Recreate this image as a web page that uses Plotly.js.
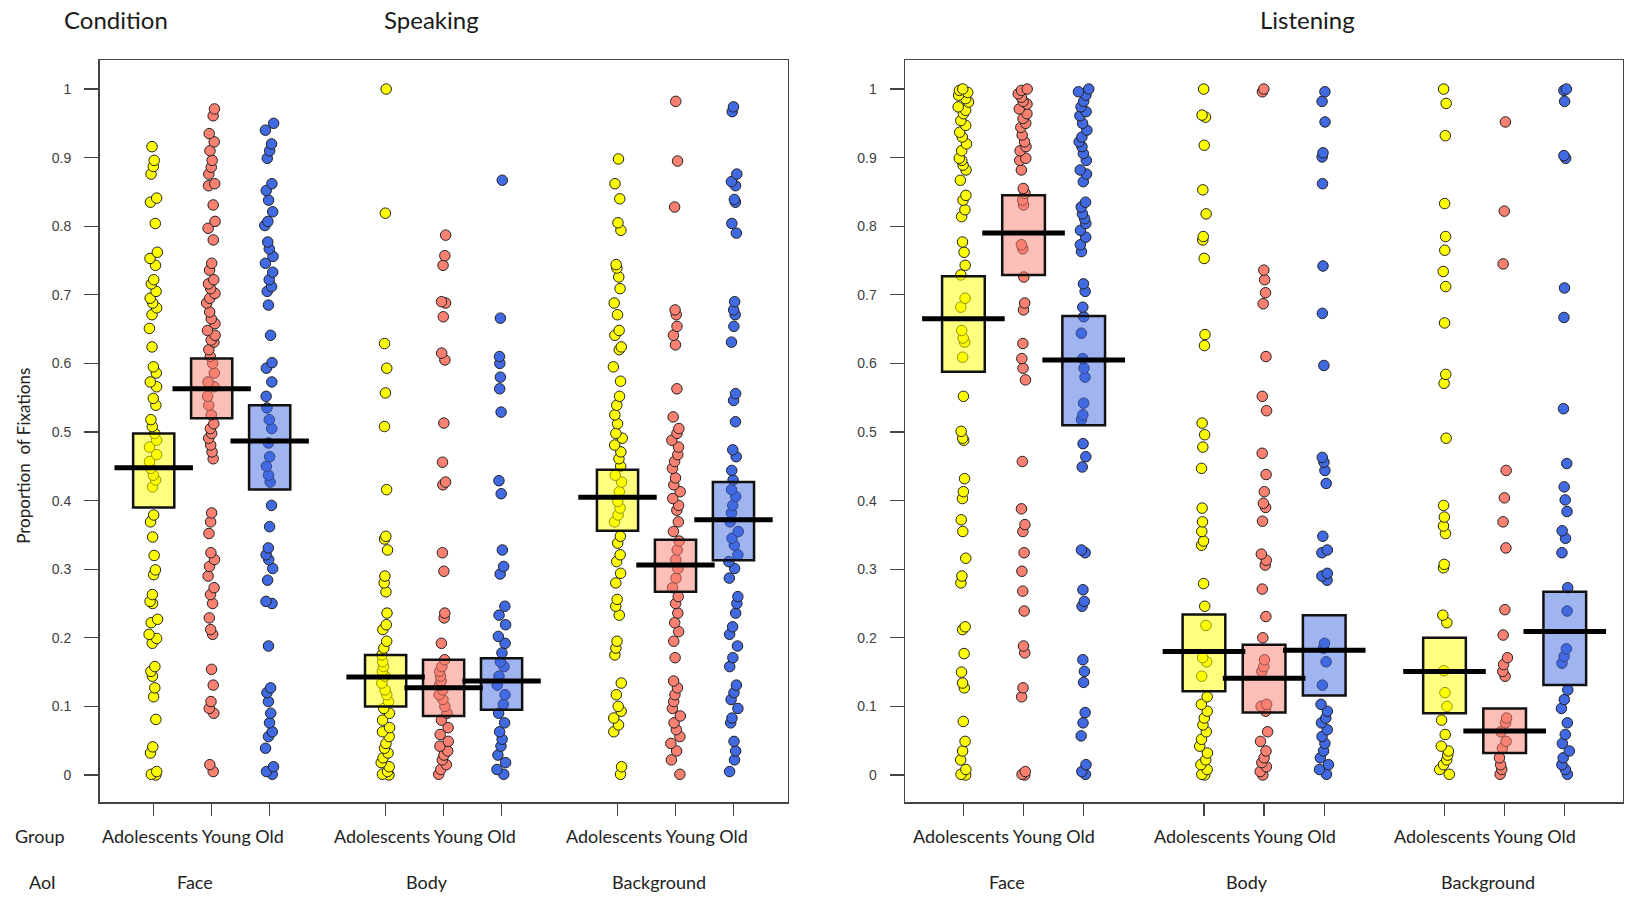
<!DOCTYPE html>
<html><head><meta charset="utf-8">
<script src="https://cdn.plot.ly/plotly-3.0.1.min.js"></script>
<style>html,body{margin:0;padding:0;background:#fff;}#chart{width:1626px;height:897px;}</style>
</head><body><div id="chart"></div>
<script>
// ---------- categories ----------
const groups = ['Adolescents', 'Young', 'Old'];
const aois = ['Face', 'Body', 'Background'];
const conditions = ['Speaking', 'Listening'];
const yTickVals = [0, 0.1, 0.2, 0.3, 0.4, 0.5, 0.6, 0.7, 0.8, 0.9, 1];
const yTickText = ['0', '0.1', '0.2', '0.3', '0.4', '0.5', '0.6', '0.7', '0.8', '0.9', '1'];

// ---------- Speaking: individual proportions ----------
const spkFaceAdol = [0.916,0.896,0.887,0.876,0.841,0.835,0.804,0.762,0.753,0.743,0.722,0.716,0.705,0.695,0.688,0.681,0.671,0.651,0.624,0.595,0.586,0.573,0.566,0.549,0.539,0.518,0.508,0.498,0.488,0.478,0.467,0.457,0.447,0.437,0.430,0.420,0.379,0.369,0.347,0.320,0.299,0.292,0.263,0.253,0.250,0.227,0.222,0.205,0.199,0.192,0.158,0.151,0.144,0.127,0.114,0.081,0.041,0.032,0.005,0.001,0.000];
const spkFaceYoung = [0.971,0.961,0.935,0.923,0.910,0.896,0.886,0.876,0.862,0.859,0.831,0.807,0.797,0.780,0.746,0.736,0.722,0.716,0.709,0.702,0.695,0.688,0.675,0.665,0.658,0.648,0.641,0.634,0.631,0.620,0.610,0.600,0.586,0.573,0.566,0.552,0.539,0.525,0.512,0.505,0.498,0.491,0.481,0.471,0.461,0.382,0.369,0.352,0.324,0.314,0.304,0.290,0.273,0.263,0.250,0.229,0.212,0.205,0.154,0.131,0.107,0.097,0.090,0.015,0.005];
const spkFaceOld = [0.950,0.940,0.920,0.910,0.899,0.862,0.852,0.838,0.821,0.807,0.801,0.777,0.767,0.756,0.746,0.733,0.722,0.712,0.705,0.685,0.641,0.601,0.593,0.573,0.552,0.535,0.518,0.505,0.484,0.464,0.450,0.437,0.427,0.393,0.362,0.331,0.321,0.314,0.301,0.284,0.253,0.250,0.188,0.127,0.120,0.107,0.090,0.076,0.063,0.056,0.039,0.012,0.005,0.001];
const spkBodyAdol = [1.000,0.819,0.629,0.593,0.557,0.508,0.416,0.348,0.344,0.328,0.290,0.280,0.267,0.236,0.219,0.212,0.195,0.185,0.175,0.165,0.158,0.151,0.144,0.134,0.124,0.117,0.107,0.097,0.090,0.080,0.069,0.063,0.056,0.046,0.039,0.032,0.025,0.018,0.012,0.005,0.001,0.000];
const spkBodyYoung = [0.787,0.757,0.743,0.690,0.688,0.668,0.615,0.605,0.513,0.456,0.427,0.423,0.324,0.297,0.236,0.229,0.192,0.168,0.158,0.151,0.144,0.137,0.131,0.124,0.117,0.110,0.100,0.090,0.080,0.069,0.059,0.049,0.042,0.035,0.029,0.022,0.015,0.008,0.001];
const spkBodyOld = [0.867,0.666,0.610,0.600,0.580,0.563,0.529,0.429,0.410,0.328,0.304,0.293,0.246,0.233,0.219,0.202,0.192,0.178,0.165,0.158,0.144,0.131,0.117,0.103,0.090,0.076,0.063,0.052,0.042,0.029,0.018,0.008,0.001];
const spkBgAdol = [0.898,0.862,0.840,0.805,0.794,0.744,0.739,0.726,0.709,0.688,0.671,0.648,0.641,0.624,0.620,0.595,0.574,0.552,0.539,0.525,0.512,0.498,0.491,0.481,0.471,0.461,0.450,0.437,0.427,0.413,0.399,0.389,0.379,0.369,0.348,0.338,0.321,0.311,0.294,0.280,0.256,0.246,0.233,0.195,0.185,0.175,0.134,0.117,0.100,0.093,0.083,0.073,0.063,0.012,0.001];
const spkBgYoung = [0.982,0.895,0.828,0.678,0.671,0.654,0.641,0.627,0.563,0.522,0.505,0.498,0.488,0.478,0.467,0.457,0.447,0.433,0.423,0.413,0.403,0.393,0.386,0.369,0.355,0.341,0.328,0.314,0.301,0.287,0.273,0.260,0.250,0.236,0.222,0.209,0.195,0.171,0.137,0.127,0.117,0.107,0.097,0.086,0.076,0.066,0.056,0.046,0.035,0.022,0.001];
const spkBgOld = [0.974,0.967,0.876,0.865,0.859,0.839,0.835,0.804,0.790,0.690,0.678,0.671,0.654,0.631,0.556,0.546,0.515,0.474,0.464,0.444,0.430,0.416,0.406,0.393,0.382,0.369,0.355,0.345,0.335,0.321,0.311,0.301,0.287,0.260,0.250,0.236,0.216,0.205,0.188,0.171,0.158,0.131,0.120,0.110,0.097,0.083,0.076,0.049,0.035,0.022,0.005];

// ---------- Listening: individual proportions ----------
const lisFaceAdol = [1.000,0.998,0.995,0.991,0.986,0.981,0.974,0.969,0.964,0.954,0.947,0.937,0.930,0.920,0.910,0.899,0.896,0.889,0.882,0.867,0.845,0.838,0.824,0.814,0.777,0.762,0.743,0.729,0.695,0.682,0.648,0.637,0.631,0.609,0.552,0.501,0.491,0.488,0.432,0.413,0.403,0.372,0.355,0.316,0.290,0.280,0.216,0.212,0.177,0.150,0.134,0.127,0.078,0.049,0.035,0.022,0.008,0.001,0.000];
const lisFaceYoung = [1.000,0.998,0.993,0.988,0.982,0.978,0.971,0.964,0.957,0.950,0.944,0.933,0.923,0.916,0.910,0.899,0.896,0.882,0.855,0.848,0.838,0.831,0.773,0.767,0.726,0.688,0.678,0.629,0.607,0.593,0.576,0.457,0.388,0.365,0.355,0.324,0.297,0.268,0.239,0.188,0.178,0.127,0.114,0.005,0.001,0.000];
const lisFaceOld = [1.000,0.996,0.991,0.982,0.974,0.967,0.961,0.950,0.940,0.930,0.923,0.916,0.906,0.896,0.882,0.876,0.865,0.835,0.828,0.818,0.811,0.804,0.794,0.784,0.773,0.763,0.716,0.705,0.682,0.668,0.644,0.607,0.593,0.580,0.542,0.525,0.518,0.483,0.464,0.449,0.328,0.324,0.270,0.253,0.246,0.168,0.151,0.135,0.091,0.076,0.057,0.015,0.005,0.001];
const lisBodyAdol = [1.000,0.962,0.959,0.918,0.853,0.818,0.785,0.780,0.753,0.642,0.626,0.513,0.496,0.478,0.447,0.389,0.369,0.355,0.341,0.335,0.279,0.246,0.218,0.171,0.165,0.144,0.114,0.103,0.093,0.083,0.073,0.063,0.052,0.042,0.032,0.022,0.015,0.008,0.001,0.000];
const lisBodyYoung = [1.000,0.996,0.736,0.722,0.703,0.687,0.610,0.552,0.531,0.469,0.438,0.413,0.396,0.390,0.370,0.322,0.313,0.306,0.271,0.231,0.200,0.168,0.158,0.151,0.103,0.100,0.093,0.063,0.049,0.035,0.025,0.018,0.012,0.005,0.000];
const lisBodyOld = [0.996,0.982,0.952,0.907,0.901,0.862,0.742,0.673,0.597,0.463,0.456,0.444,0.425,0.348,0.328,0.324,0.294,0.290,0.284,0.192,0.185,0.165,0.131,0.103,0.093,0.083,0.076,0.066,0.056,0.046,0.035,0.025,0.015,0.008,0.001];
const lisBgAdol = [1.000,0.979,0.932,0.833,0.785,0.765,0.734,0.712,0.659,0.584,0.571,0.491,0.393,0.376,0.363,0.352,0.307,0.302,0.233,0.222,0.152,0.120,0.100,0.080,0.059,0.042,0.035,0.029,0.022,0.015,0.008,0.001];
const lisBgYoung = [0.952,0.822,0.745,0.444,0.404,0.369,0.331,0.241,0.204,0.171,0.161,0.151,0.144,0.083,0.076,0.063,0.049,0.039,0.025,0.015,0.008,0.001];
const lisBgOld = [1.000,0.998,0.982,0.903,0.899,0.710,0.667,0.534,0.454,0.420,0.401,0.384,0.356,0.345,0.324,0.273,0.239,0.184,0.173,0.163,0.124,0.110,0.097,0.076,0.059,0.046,0.035,0.025,0.015,0.008,0.001];

// ---------- summaries (order: Face A/Y/O, Body A/Y/O, Background A/Y/O) ----------
const spkMean = [0.448, 0.563, 0.487, 0.143, 0.127, 0.137, 0.405, 0.306, 0.372];
const spkLow  = [0.390, 0.520, 0.416, 0.100, 0.086, 0.095, 0.356, 0.267, 0.313];
const spkHigh = [0.498, 0.607, 0.539, 0.175, 0.168, 0.170, 0.445, 0.343, 0.427];
const lisMean = [0.665, 0.790, 0.605, 0.180, 0.141, 0.182, 0.151, 0.064, 0.209];
const lisLow  = [0.588, 0.729, 0.510, 0.122, 0.091, 0.116, 0.090, 0.032, 0.131];
const lisHigh = [0.727, 0.845, 0.669, 0.234, 0.190, 0.233, 0.200, 0.097, 0.267];

// ---------- assembly ----------
const panels = [
  {points: [[spkFaceAdol, spkFaceYoung, spkFaceOld], [spkBodyAdol, spkBodyYoung, spkBodyOld], [spkBgAdol, spkBgYoung, spkBgOld]],
   mean: spkMean, low: spkLow, high: spkHigh, xa: 'x', ya: 'y', meanLen: 56},
  {points: [[lisFaceAdol, lisFaceYoung, lisFaceOld], [lisBodyAdol, lisBodyYoung, lisBodyOld], [lisBgAdol, lisBgYoung, lisBgOld]],
   mean: lisMean, low: lisLow, high: lisHigh, xa: 'x2', ya: 'y2', meanLen: 59}
];
const pointColors = ['#FFFF00', '#FA8072', '#4169E1'];
const boxFills = ['rgba(255,255,0,0.5)', 'rgba(250,128,114,0.5)', 'rgba(65,105,225,0.5)'];
function pos(a, g) { return a * 4 + g + 1; }
const positions = [];
aois.forEach((_, a) => groups.forEach((_, g) => positions.push(pos(a, g))));

const traces = [];
panels.forEach(p => {
  // jittered individual points
  groups.forEach((gName, g) => {
    const x = [], y = [];
    aois.forEach((_, a) => p.points[a][g].forEach(v => { x.push(pos(a, g)); y.push(v); }));
    traces.push({type: 'box', x: x, y: y, xaxis: p.xa, yaxis: p.ya, name: gName,
      boxpoints: 'all', jitter: 0.6, pointpos: 0, width: 0.3, whiskerwidth: 0,
      fillcolor: 'rgba(0,0,0,0)', line: {width: 0, color: 'rgba(0,0,0,0)'},
      marker: {color: pointColors[g], size: 10.5, opacity: 1, line: {color: '#222', width: 1}},
      hoverinfo: 'y', showlegend: false});
  });
  // confidence boxes
  groups.forEach((gName, g) => {
    const x = [], q1 = [], q3 = [], med = [];
    aois.forEach((_, a) => { const i = a * 3 + g; x.push(pos(a, g)); q1.push(p.low[i]); q3.push(p.high[i]); med.push(p.mean[i]); });
    traces.push({type: 'box', x: x, q1: q1, q3: q3, median: med, lowerfence: q1, upperfence: q3,
      xaxis: p.xa, yaxis: p.ya, name: gName, width: 0.71, whiskerwidth: 0, boxpoints: false,
      fillcolor: boxFills[g], line: {color: '#111', width: 2.5}, hoverinfo: 'skip', showlegend: false});
  });
  // mean bars
  traces.push({type: 'scatter', mode: 'markers', x: positions, y: p.mean, xaxis: p.xa, yaxis: p.ya,
    marker: {symbol: 'line-ew', size: p.meanLen, color: '#000', line: {color: '#000', width: 5}},
    hoverinfo: 'y', showlegend: false});
});

function xAxis(domain, range) {
  return {domain: domain, range: range, tickvals: positions, ticktext: positions.map(() => ''),
    ticks: 'outside', ticklen: 12, tickwidth: 1.3, tickcolor: '#444', showline: true, mirror: true,
    linecolor: '#444', linewidth: 1.5, showgrid: false, zeroline: false, fixedrange: true};
}
function yAxis(anchor) {
  return {domain: [0.1059, 0.9331], range: [-0.0394, 1.0423], anchor: anchor, tickvals: yTickVals, ticktext: yTickText,
    ticks: 'outside', ticklen: 14, tickwidth: 1.3, tickcolor: '#444', ticklabelstandoff: 10,
    tickfont: {family: 'Liberation Sans, Arial, sans-serif', size: 14, color: '#404040'},
    showline: true, mirror: true, linecolor: '#444', linewidth: 1.5, showgrid: false, zeroline: false, fixedrange: true};
}

const lblFont = {family: 'Lato, sans-serif', size: 18, color: '#222'};
const ttlFont = {family: 'Lato, sans-serif', size: 24, color: '#1a1a1a'};
function ann(o) { return Object.assign({showarrow: false, xanchor: 'center', yanchor: 'middle'}, o); }
const annotations = [
  ann({text: 'Condition', xref: 'paper', yref: 'paper', x: 0.0713, y: 0.978, font: ttlFont}),
  ann({text: conditions[0], xref: 'paper', yref: 'paper', x: 0.2653, y: 0.978, font: ttlFont}),
  ann({text: conditions[1], xref: 'paper', yref: 'paper', x: 0.8042, y: 0.978, font: ttlFont}),
  ann({text: 'Group', xref: 'paper', yref: 'paper', x: 0.0249, y: 0.068, font: lblFont}),
  ann({text: 'AoI', xref: 'paper', yref: 'paper', x: 0.0261, y: 0.0167, font: lblFont}),
  ann({text: 'Proportion\u00a0 of Fixations', xref: 'paper', yref: 'paper', x: 0.014, y: 0.4916, textangle: -90,
   font: {family: 'Lato, sans-serif', size: 17, color: '#222'}})
];
['x', 'x2'].forEach(xr => {
  aois.forEach((aName, a) => {
    annotations.push(ann({text: groups.join(' '), xref: xr, yref: 'paper', x: pos(a, 1) - 0.32, y: 0.068, font: lblFont}));
    annotations.push(ann({text: aName, xref: xr, yref: 'paper', x: pos(a, 1) - 0.28, y: 0.0167, font: lblFont}));
  });
});

const layout = {
  width: 1626, height: 897, margin: {l: 0, r: 0, t: 0, b: 0},
  paper_bgcolor: '#ffffff', plot_bgcolor: '#ffffff', boxmode: 'overlay', showlegend: false,
  xaxis: xAxis([0.0612, 0.4846], [0.065, 11.94]),
  yaxis: yAxis('x'),
  xaxis2: xAxis([0.5566, 0.99815], [0.029, 11.968]),
  yaxis2: yAxis('x2'),
  annotations: annotations
};
layout.xaxis.anchor = 'y';
layout.xaxis2.anchor = 'y2';

Plotly.newPlot('chart', traces, layout, {displayModeBar: false, staticPlot: true});
</script></body></html>
